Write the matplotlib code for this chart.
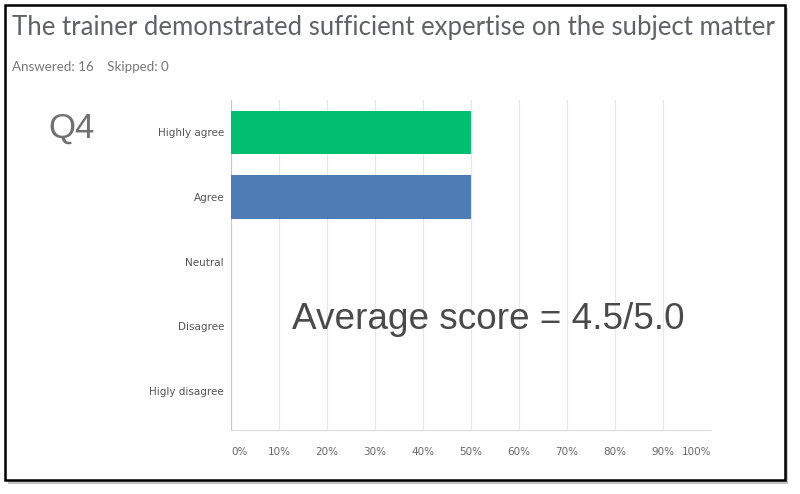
import matplotlib
matplotlib.use('Agg')
import matplotlib.pyplot as plt
from matplotlib.patches import Rectangle

# Survey data
categories = ['Highly agree', 'Agree', 'Neutral', 'Disagree', 'Higly disagree']
percentages = [50, 50, 0, 0, 0]
bar_colors = ['#00bf6f', '#507cb6', '#507cb6', '#507cb6', '#507cb6']
tick_values = [0, 10, 20, 30, 40, 50, 60, 70, 80, 90, 100]
tick_labels = ['0%', '10%', '20%', '30%', '40%', '50%', '60%', '70%', '80%', '90%', '100%']

title = 'The trainer demonstrated sufficient expertise on the subject matter'
answered_text = 'Answered: 16    Skipped: 0'
question_label = 'Q4'
average_text = 'Average score = 4.5/5.0'

W, H = 800, 494
fig = plt.figure(figsize=(W / 100, H / 100), dpi=100)
fig.patch.set_facecolor('white')

# Frame with drop shadow (drawn beneath the axes)
shadow = Rectangle((8 / W, 1 - 484 / H), 780 / W, 476 / H, transform=fig.transFigure,
                   facecolor='#9a9a9a', edgecolor='none', alpha=0.6, zorder=-2)
fig.patches.append(shadow)
frame = Rectangle((5 / W, 1 - 480 / H), 780 / W, 475 / H, transform=fig.transFigure,
                  facecolor='white', edgecolor='black', linewidth=1.8, zorder=-1)
fig.patches.append(frame)

# Axes placement in pixels: left 231, right 711, top 100, bottom 430
ax = fig.add_axes([231 / W, 1 - 430 / H, 480 / W, 330 / H])
ax.set_facecolor('none')

y = list(range(len(categories)))
ax.barh(y, percentages, height=0.67, color=bar_colors, zorder=3)

ax.set_xlim(0, 100)
ax.set_ylim(4.6, -0.5)
ax.set_xticks(tick_values)
ax.set_xticklabels(tick_labels, fontsize=7.5, color='#666666')
labels = ax.get_xticklabels()
labels[0].set_ha('left')
labels[-1].set_ha('right')
ax.set_yticks(y)
ax.set_yticklabels(categories, fontsize=7.5, color='#555555')
ax.tick_params(axis='both', length=0)
ax.tick_params(axis='x', pad=12)
ax.tick_params(axis='y', pad=5)

ax.grid(axis='x', color='#e6e6e6', linewidth=0.8, zorder=0)
for side in ['top', 'right']:
    ax.spines[side].set_visible(False)
ax.spines['left'].set_color('#c8c8c8')
ax.spines['bottom'].set_color('#dcdcdc')

fig.text(12 / W, 1 - 28 / H, title, fontsize=18.5, color='#5f6368',
         ha='left', va='center', family='Lato')
fig.text(12 / W, 1 - 67 / H, answered_text, fontsize=9.6, color='#777777',
         ha='left', va='center', family='Lato')
fig.text(48 / W, 1 - 128 / H, question_label, fontsize=25, color='#707070',
         ha='left', va='center', family='Liberation Sans')
fig.text(292 / W, 1 - 319 / H, average_text, fontsize=26.6, color='#4a4a4a',
         ha='left', va='center', family='Liberation Sans')

fig.savefig('out.png', dpi=100)
